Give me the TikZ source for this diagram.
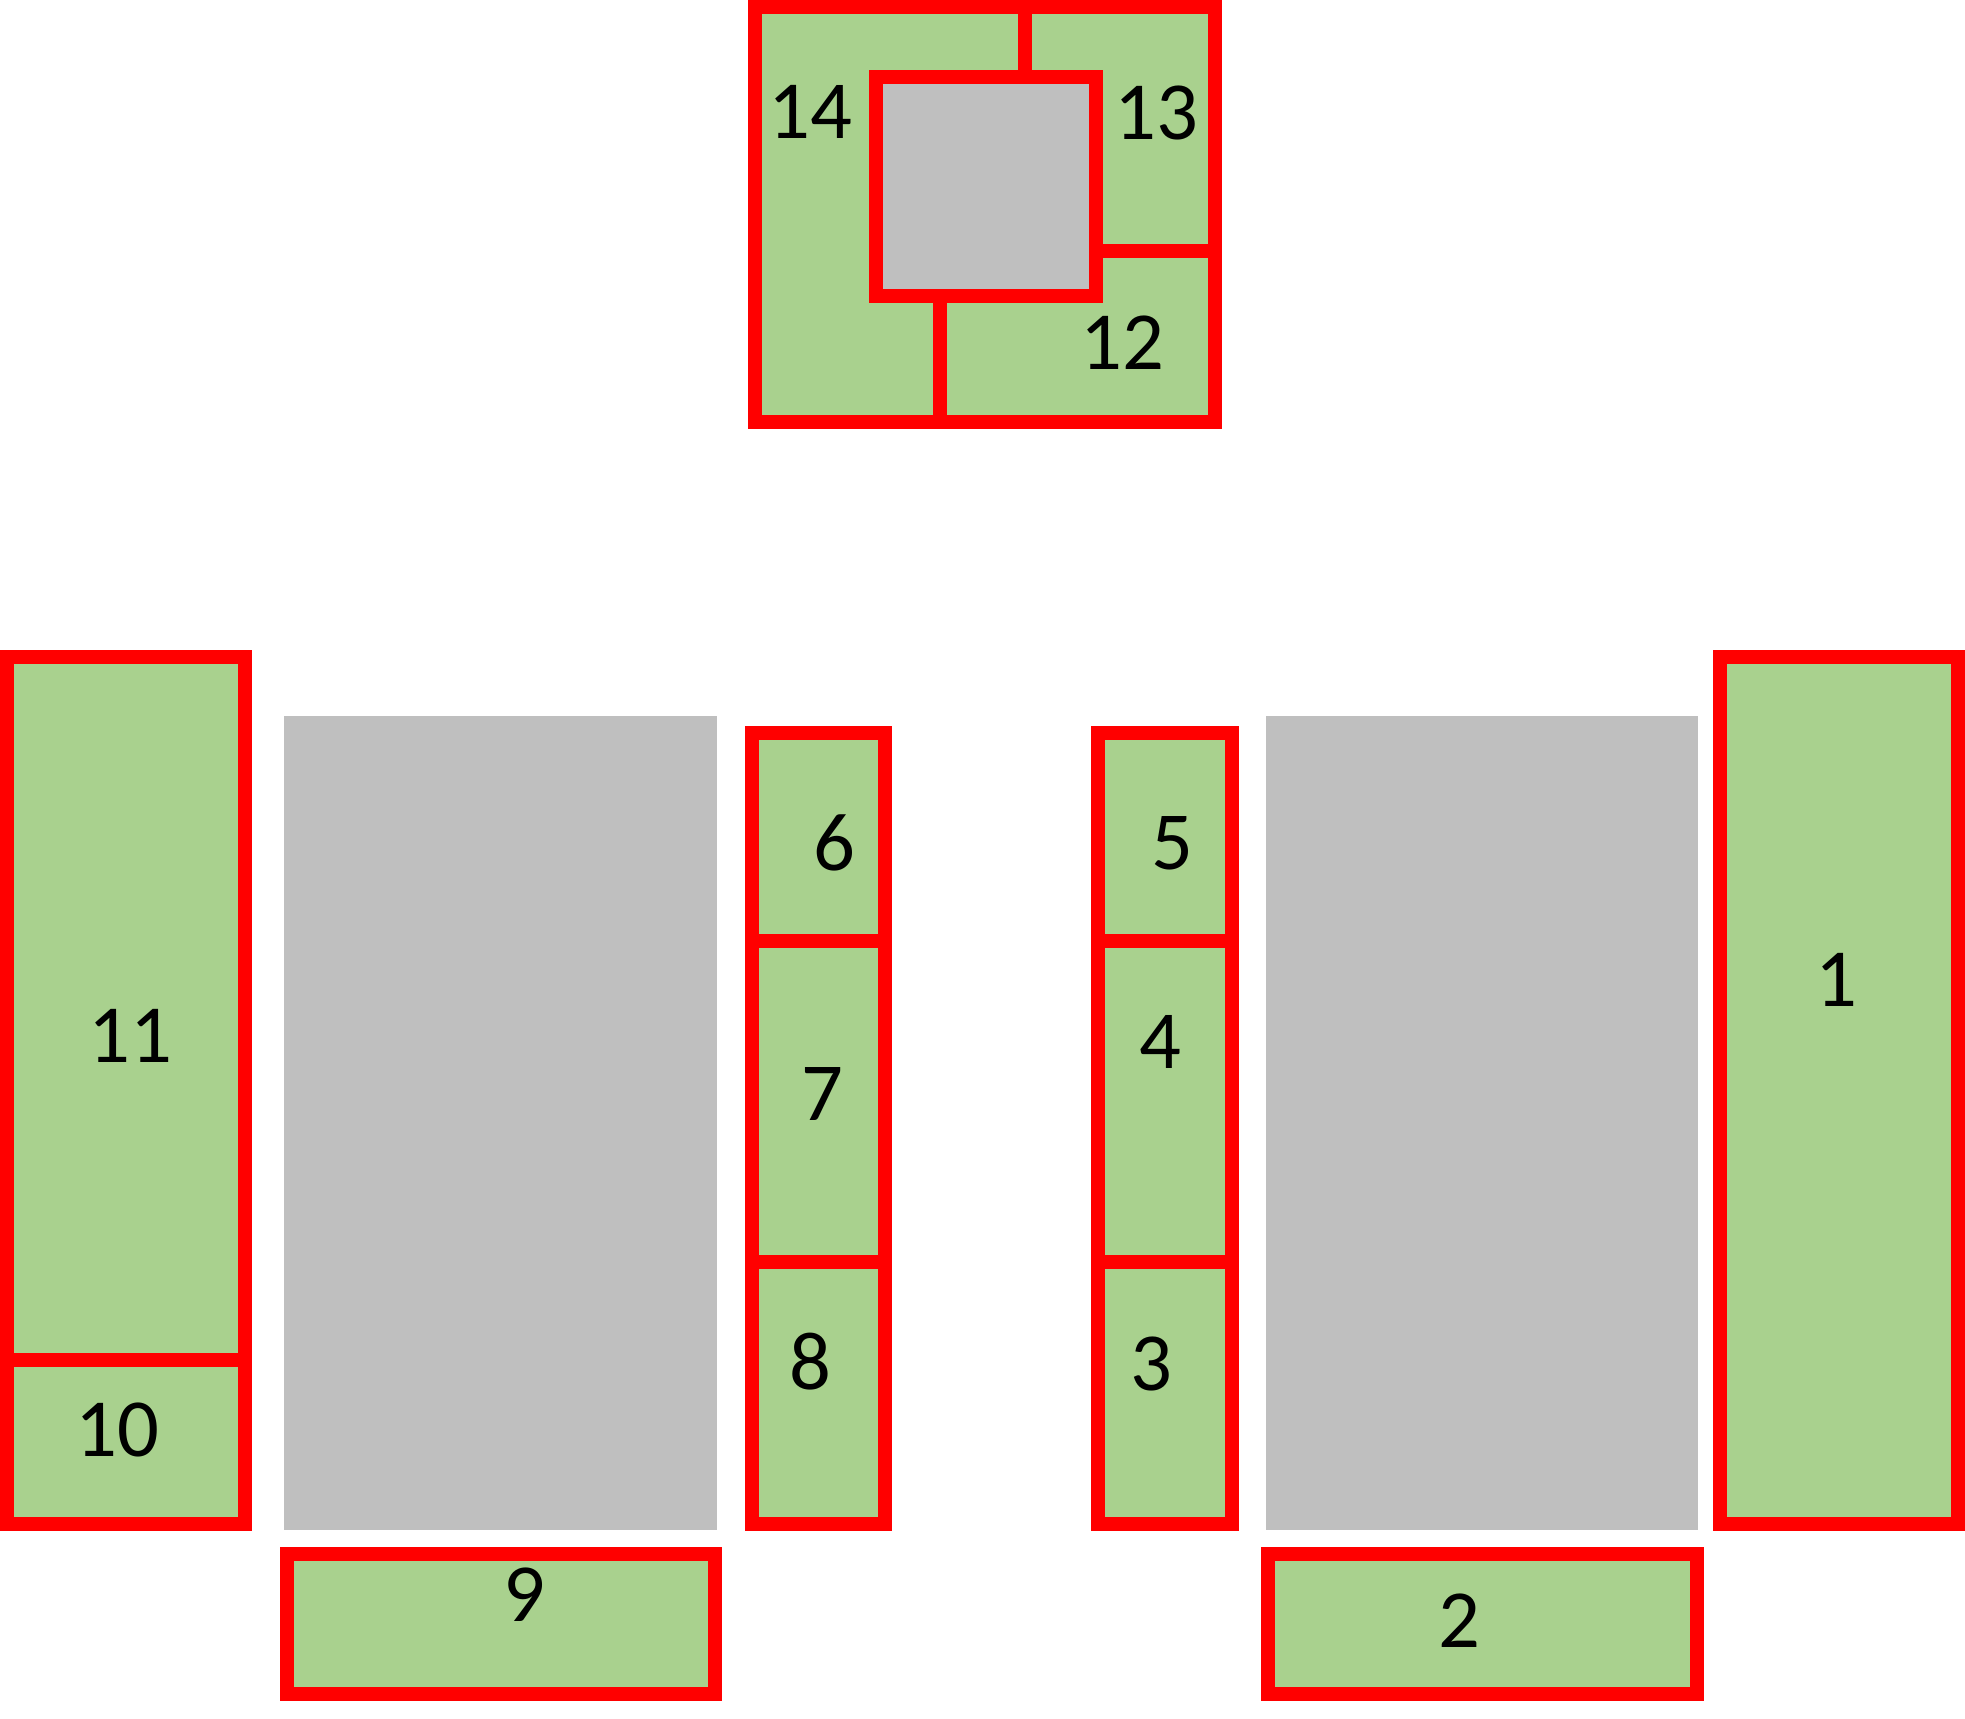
\documentclass[tikz,border=0pt]{standalone}
\usepackage{fontspec}
\setmainfont{Carlito}
\usepackage{xcolor}
\definecolor{leaf}{HTML}{A9D18E}
\definecolor{ash}{HTML}{BFBFBF}
\definecolor{signal}{HTML}{FF0000}
\usepackage{tikz}
\tikzset{
  zone/.style ={draw=signal,fill=leaf,line width=1.4mm},
  wall/.style ={draw=signal,line width=1.4mm},
  block/.style={fill=ash},
  num/.style  ={font=\fontsize{23.5}{28}\selectfont,inner sep=0pt},
}
\begin{document}
\begin{tikzpicture}[x=0.1mm,y=-0.1mm]
\useasboundingbox (0,0) rectangle (1965,1718);

%================= top group : 12, 13, 14 round the core
\draw[zone] (755,7) rectangle (1215,422);
\draw[wall] (1025,7) -- (1025,77);
\draw[wall] (1096,251) -- (1215,251);
\draw[wall] (940,296) -- (940,422);
\draw[zone,fill=ash] (876,77) rectangle (1096,296);
\node[num] (n14) at (810,112) {14};
\node[num] (n13) at (1156,113) {13};
\node[num] (n12) at (1122,343) {12};

%================= left side : 11, 10, grey block, 9, column 6-8
\draw[zone] (7,657) rectangle (245,1524);
\draw[wall] (7,1360) -- (245,1360);
\node[num] (n11) at (130,1036) {11};
\node[num] (n10) at (117,1430) {10};
\fill[block] (284,716) rectangle (717,1530);
\draw[zone] (287,1554) rectangle (715,1694);
\node[num] (n9) at (524,1595) {9};
\draw[zone] (752,733) rectangle (885,1524);
\draw[wall] (752,941) -- (885,941);
\draw[wall] (752,1262) -- (885,1262);
\node[num] (n6) at (834,843) {6};
\node[num] (n7) at (822,1094) {7};
\node[num] (n8) at (810,1362) {8};

%================= right side : column 3-5, grey block, 2, 1
\draw[zone] (1098,733) rectangle (1232,1524);
\draw[wall] (1098,941) -- (1232,941);
\draw[wall] (1098,1262) -- (1232,1262);
\node[num] (n5) at (1172,843) {5};
\node[num] (n4) at (1160,1042) {4};
\node[num] (n3) at (1151,1364) {3};
\fill[block] (1266,716) rectangle (1698,1530);
\draw[zone] (1268,1554) rectangle (1697,1694);
\node[num] (n2) at (1459,1621) {2};
\draw[zone] (1720,657) rectangle (1958,1524);
\node[num] (n1) at (1836,980) {1};
\end{tikzpicture}
\end{document}
